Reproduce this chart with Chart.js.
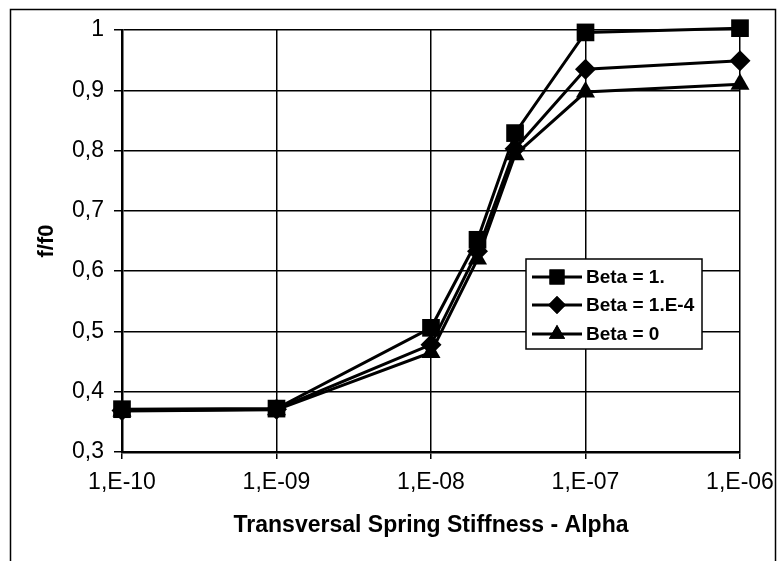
<!DOCTYPE html>
<html>
<head>
<meta charset="utf-8">
<script src="https://cdn.jsdelivr.net/npm/chart.js@4.4.0/dist/chart.umd.min.js"></script>
<style>
  html, body { margin: 0; padding: 0; background: #ffffff; }
  #wrap { width: 778px; height: 561px; position: relative; }
</style>
</head>
<body>
<div id="wrap"><canvas id="c" width="778" height="561"></canvas></div>
<script>
// ---- data ----
const alphaValues = [1e-10, 1e-9, 1e-8, 2e-8, 3.5e-8, 1e-7, 1e-6];
const beta1 = [0.371, 0.372, 0.506, 0.652, 0.829, 0.996, 1.003];
const beta1e4 = [0.369, 0.371, 0.478, 0.633, 0.803, 0.935, 0.949];
const beta0 = [0.368, 0.370, 0.465, 0.620, 0.793, 0.897, 0.910];
const seriesLabels = ['Beta = 1.', 'Beta = 1.E-4', 'Beta = 0'];
const xTickValues = [1e-10, 1e-9, 1e-8, 1e-7, 1e-6];
const xTickLabels = ['1,E-10', '1,E-09', '1,E-08', '1,E-07', '1,E-06'];
const yTickValues = [0.3, 0.4, 0.5, 0.6, 0.7, 0.8, 0.9, 1];
const yTickLabels = ['0,3', '0,4', '0,5', '0,6', '0,7', '0,8', '0,9', '1'];
const xTitle = 'Transversal Spring Stiffness - Alpha';
const yTitle = 'f/f0';

const FONT = '"Liberation Sans", Arial, sans-serif';

function toPoints(ys) { return alphaValues.map((x, i) => ({ x: x, y: ys[i] })); }

const styles = [
  { pointStyle: 'rect', pointRadius: 12.5 },
  { pointStyle: 'rectRot', pointRadius: 10.5 },
  { pointStyle: 'triangle', pointRadius: 11 }
];
const seriesData = [beta1, beta1e4, beta0];

const datasets = seriesData.map((ys, i) => ({
  label: seriesLabels[i],
  data: toPoints(ys),
  borderColor: '#000',
  backgroundColor: '#000',
  borderWidth: 3,
  pointStyle: styles[i].pointStyle,
  pointRadius: styles[i].pointRadius,
  pointHoverRadius: styles[i].pointRadius,
  pointBorderWidth: 0,
  pointBackgroundColor: '#000',
  pointBorderColor: '#000',
  tension: 0,
  clip: false
}));

const framePlugin = {
  id: 'frame',
  beforeDraw(chart) {
    const ctx = chart.ctx;
    ctx.save();
    ctx.fillStyle = '#fff';
    ctx.fillRect(0, 0, chart.width, chart.height);
    ctx.strokeStyle = '#000';
    ctx.lineWidth = 1.5;
    ctx.strokeRect(10.5, 9.5, 765, 600);
    ctx.restore();
  }
};

const legendPlugin = {
  id: 'customLegend',
  afterDatasetsDraw(chart) {
    const ctx = chart.ctx;
    const bx = 526, by = 259, bw = 176, bh = 90;
    ctx.save();
    ctx.fillStyle = '#fff';
    ctx.fillRect(bx, by, bw, bh);
    ctx.strokeStyle = '#000';
    ctx.lineWidth = 1.5;
    ctx.strokeRect(bx, by, bw, bh);
    const rows = [277, 305, 334];
    chart.data.datasets.forEach((ds, i) => {
      const y = rows[i];
      ctx.strokeStyle = '#000';
      ctx.lineWidth = 3;
      ctx.beginPath();
      ctx.moveTo(532, y);
      ctx.lineTo(582, y);
      ctx.stroke();
      ctx.fillStyle = '#000';
      Chart.helpers.drawPoint(ctx, {
        pointStyle: ds.pointStyle,
        radius: ds.pointRadius * 0.85,
        rotation: 0,
        borderWidth: 0
      }, 557, y);
      ctx.fill();
      ctx.font = 'bold 19px ' + FONT;
      ctx.textBaseline = 'middle';
      ctx.textAlign = 'left';
      ctx.fillText(ds.label, 586, y + 1);
    });
    ctx.restore();
  }
};

new Chart(document.getElementById('c'), {
  type: 'line',
  data: { datasets: datasets },
  options: {
    responsive: false,
    animation: false,
    devicePixelRatio: 1,
    layout: { padding: { left: 0, right: 38, top: 30, bottom: 0 } },
    plugins: {
      legend: { display: false },
      tooltip: { enabled: false },
      title: { display: false }
    },
    scales: {
      x: {
        type: 'logarithmic',
        min: 1e-10,
        max: 1e-6,
        afterBuildTicks(scale) {
          scale.ticks = xTickValues.map(v => ({ value: v }));
        },
        afterFit(scale) {
          scale.height = 109;
          scale.paddingLeft = 0;
          scale.paddingRight = 0;
        },
        ticks: {
          autoSkip: false,
          maxRotation: 0,
          minRotation: 0,
          padding: 10,
          color: '#000',
          font: { family: FONT, size: 23 },
          callback(value) {
            const idx = xTickValues.findIndex(v => Math.abs(Math.log10(v) - Math.log10(value)) < 1e-6);
            return idx >= 0 ? xTickLabels[idx] : '';
          }
        },
        grid: {
          color: '#000',
          lineWidth: 1.5,
          tickLength: 7,
          drawTicks: true
        },
        border: { color: '#000', width: 2.5 },
        title: {
          display: true,
          text: xTitle,
          color: '#000',
          font: { family: FONT, size: 23, weight: 'bold' },
          padding: { top: 0, bottom: 22 }
        }
      },
      y: {
        type: 'linear',
        min: 0.3,
        max: 1,
        afterBuildTicks(scale) {
          scale.ticks = yTickValues.map(v => ({ value: v }));
        },
        afterFit(scale) {
          scale.width = 122;
          scale.paddingTop = 0;
          scale.paddingBottom = 0;
        },
        ticks: {
          padding: 10,
          color: '#000',
          font: { family: FONT, size: 23 },
          callback(value) {
            const idx = yTickValues.findIndex(v => Math.abs(v - value) < 1e-9);
            return idx >= 0 ? yTickLabels[idx] : '';
          }
        },
        grid: {
          color: '#000',
          lineWidth: 1.5,
          tickLength: 8
        },
        border: { color: '#000', width: 2.5 },
        title: {
          display: true,
          text: yTitle,
          color: '#000',
          font: { family: FONT, size: 22, weight: 'bold' },
          padding: { top: 34, bottom: 0 }
        }
      }
    }
  },
  plugins: [framePlugin, legendPlugin]
});
</script>
</body>
</html>
